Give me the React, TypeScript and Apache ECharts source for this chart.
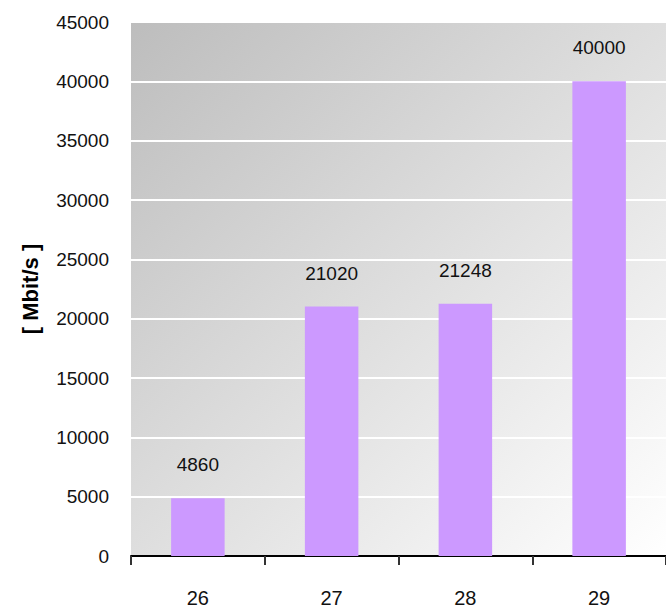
import React, { useEffect, useRef } from "react";
import * as echarts from "echarts";

const categories = ["26", "27", "28", "29"];
const values = [4860, 21020, 21248, 40000];
const yTicks = { min: 0, max: 45000, interval: 5000 };
const yAxisName = "[ Mbit/s ]";

const FONT = "'Liberation Sans Narrow', 'Arial Narrow', 'Liberation Sans', Arial, sans-serif";

export default function App() {
  const ref = useRef<HTMLDivElement>(null);
  useEffect(() => {
    document.body.style.margin = "0";
    const chart = echarts.init(ref.current!, null, { renderer: "svg" });
    chart.setOption({
      animation: false,
      backgroundColor: "#ffffff",
      grid: {
        left: 131,
        top: 22,
        width: 542,
        height: 534,
        show: true,
        borderWidth: 0,
        backgroundColor: new echarts.graphic.LinearGradient(0, 0, 1, 1, [
          { offset: 0, color: "#bdbdbd" },
          { offset: 1, color: "#ffffff" },
        ]),
      },
      xAxis: {
        type: "category",
        data: categories,
        axisLine: { show: true, lineStyle: { color: "#000000", width: 2 } },
        axisTick: { show: true, length: 9, lineStyle: { color: "#333333", width: 2 } },
        axisLabel: { fontFamily: FONT, fontSize: 20, color: "#111111", margin: 32 },
        splitLine: { show: false },
      },
      yAxis: {
        type: "value",
        min: yTicks.min,
        max: yTicks.max,
        interval: yTicks.interval,
        name: yAxisName,
        nameLocation: "middle",
        nameRotate: 90,
        nameGap: 90,
        nameTextStyle: { fontFamily: FONT, fontSize: 22, fontWeight: "bold", color: "#000000" },
        axisLine: { show: false },
        axisTick: { show: false },
        axisLabel: {
          fontFamily: FONT,
          fontSize: 19,
          color: "#111111",
          margin: 22,
          formatter: (v: number) => String(v),
        },
        splitLine: { show: true, lineStyle: { color: "#ffffff", width: 2 } },
      },
      series: [
        {
          type: "bar",
          data: values,
          barWidth: "40%",
          itemStyle: { color: "#cc99ff" },
          label: {
            show: true,
            position: "top",
            distance: 24,
            fontFamily: FONT,
            fontSize: 19,
            color: "#111111",
          },
        },
      ],
    });
    return () => chart.dispose();
  }, []);
  return <div ref={ref} style={{ width: 666, height: 611 }} />;
}
